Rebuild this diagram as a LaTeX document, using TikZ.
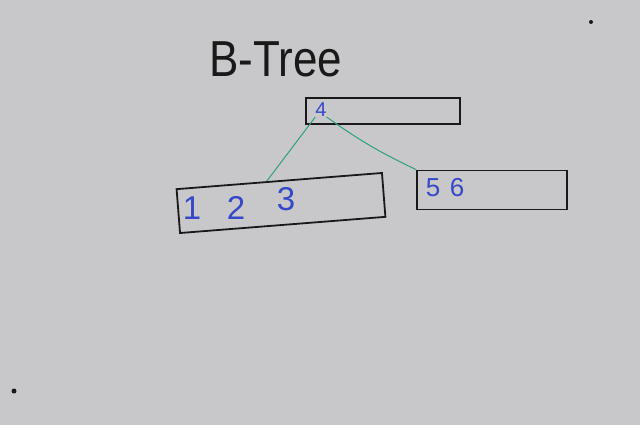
\documentclass[tikz,border=0pt]{standalone}
\usepackage{fontspec}
\setmainfont{Liberation Sans}
\usepackage{xcolor}
\usetikzlibrary{positioning, calc}
\definecolor{boardGray}{RGB}{200,200,202}
\definecolor{markerBlack}{RGB}{25,25,25}
\definecolor{markerBlue}{RGB}{52,72,200}
\definecolor{markerTeal}{RGB}{45,160,125}
\tikzset{
    keybox/.style={
        rectangle,
        draw=markerBlack,
        line width=1.8pt,
        inner sep=0pt
    },
    keytext/.style={
        text=markerBlue,
        inner sep=0pt
    },
    childlink/.style={draw=markerTeal, line width=1pt},
    dotmark/.style={circle, fill=markerBlack, inner sep=0pt, minimum size=4pt}
}
\begin{document}
\begin{tikzpicture}[x=1pt, y=-1pt]
        \useasboundingbox (0,0) rectangle (640,425);
        \fill[boardGray] (0,0) rectangle (640,425);
        % title
        \node[text=markerBlack, font=\fontsize{44}{44}\selectfont, yscale=1.15] (title) at (276,59) {B-Tree};
        % nodes
        \node[keybox, minimum width=154pt, minimum height=26pt] (root) at (383,111) {};
        \node[keybox, rotate=4.5, minimum width=206pt, minimum height=44pt] (leafA) at (281,203) {};
        \node[keybox, minimum width=150pt, minimum height=39pt] (leafB) at (492,190) {};
        % keys
        \node[keytext, font=\fontsize{20}{20}\selectfont] (k4) at (321,110) {4};
        \node[keytext, font=\fontsize{33}{33}\selectfont] (k1) at (192,208) {1};
        \node[keytext, font=\fontsize{33}{33}\selectfont] (k2) at (236,208) {2};
        \node[keytext, font=\fontsize{33}{33}\selectfont] (k3) at (286,199) {3};
        \node[keytext, font=\fontsize{26}{26}\selectfont] (k5) at (433,188) {5};
        \node[keytext, font=\fontsize{26}{26}\selectfont] (k6) at (457,188) {6};
        % links
        \draw[childlink] (k4.south west) -- ($(leafA.north west)!0.44!(leafA.north east)$);
        \draw[childlink] (k4.south east) to[bend right=5] (leafB.north west);
        % stray marks
        \node[dotmark] (dotA) at (591,22) {};
        \node[dotmark, minimum size=5pt] (dotB) at (14,391) {};
    \end{tikzpicture}
\end{document}
